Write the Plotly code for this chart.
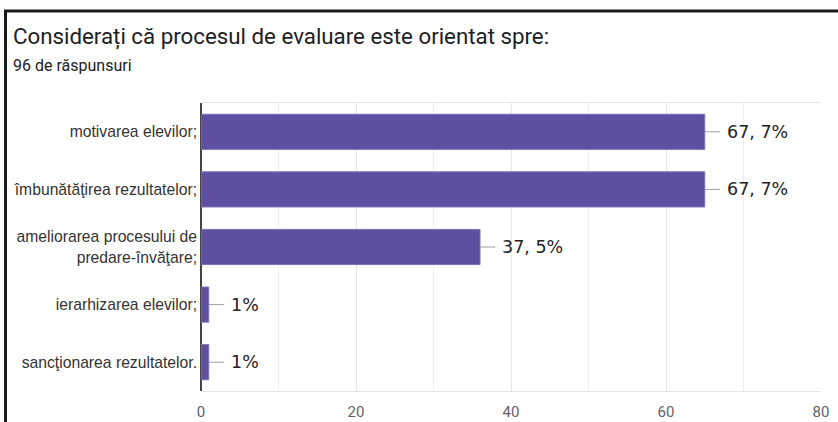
import plotly.graph_objects as go

TITLE = 'Considerați că procesul de evaluare este orientat spre:'
SUBTITLE = '96 de răspunsuri'

categories = [
    'motivarea elevilor;',
    'îmbunătăţirea rezultatelor;',
    'ameliorarea procesului de<br>predare-învăţare;',
    'ierarhizarea elevilor;',
    'sancţionarea rezultatelor.',
]
counts = [65, 65, 36, 1, 1]
pct_labels = ['67, 7%', '67, 7%', '37, 5%', '1%', '1%']
x_ticks = [0, 20, 40, 60, 80]

W, H = 838, 422
L, R, T, B = 201, 17, 103, 31
pw, ph = W - L - R, H - T - B


def px_x(v):
    return (v - L) / pw


def px_y(v):
    return (H - B - v) / ph


fig = go.Figure()

fig.add_trace(go.Bar(
    x=counts,
    y=categories,
    orientation='h',
    marker=dict(color='#5f4fa0', line=dict(color='#7d70b8', width=1)),
    width=0.61,
    hoverinfo='skip',
))

for c, cat, lab in zip(counts, categories, pct_labels):
    fig.add_annotation(
        x=c, y=cat, xref='x', yref='y',
        text=lab, showarrow=True, arrowhead=0, arrowwidth=1,
        arrowcolor='#9e9e9e', ax=15, ay=0, xanchor='left',
        standoff=0, startstandoff=0, borderpad=6,
        font=dict(family='DejaVu Sans', size=17.5, color='#222222'),
    )

fig.add_annotation(
    x=px_x(11), y=px_y(36), xref='paper', yref='paper',
    xanchor='left', yanchor='middle', showarrow=False,
    text=TITLE, font=dict(family='Roboto', size=22.3, color='#202124'),
)
fig.add_annotation(
    x=px_x(11), y=px_y(66), xref='paper', yref='paper',
    xanchor='left', yanchor='middle', showarrow=False,
    text=SUBTITLE, font=dict(family='Roboto', size=16, color='#202124'),
)

# screenshot frame: top and left edges only
frame = dict(color='#1a1a1a', width=3)
fig.add_shape(type='line', xref='paper', yref='paper',
              x0=px_x(4), x1=px_x(840), y0=px_y(11), y1=px_y(11),
              line=frame, layer='above')
fig.add_shape(type='line', xref='paper', yref='paper',
              x0=px_x(5.5), x1=px_x(5.5), y0=px_y(10), y1=px_y(430),
              line=frame, layer='above')

fig.update_layout(
    width=W, height=H,
    margin=dict(l=L, r=R, t=T, b=B),
    plot_bgcolor='white', paper_bgcolor='white',
    showlegend=False,
    font=dict(family='Liberation Sans', size=15.7, color='#333333'),
    xaxis=dict(
        range=[0, 80], tickvals=x_ticks, showgrid=True,
        gridcolor='#e6e6e6', gridwidth=1,
        minor=dict(dtick=10, tick0=0, showgrid=True, gridcolor='#eeeeee'),
        zeroline=True, zerolinecolor='#444444', zerolinewidth=1.5,
        showline=True, mirror=True, linecolor='#e6e6e6', linewidth=1,
        tickfont=dict(family='Roboto', size=15, color='#5f6368'),
        ticks='', ticklabelstandoff=7, automargin=False,
    ),
    yaxis=dict(
        categoryorder='array', categoryarray=categories[::-1],
        showgrid=False, ticks='', showline=False,
        tickfont=dict(family='Liberation Sans', size=15.7, color='#333333'),
        ticklabelstandoff=3, automargin=False,
    ),
)

fig.write_html('out.html', config={'displayModeBar': False},
               post_script="document.body.style.margin='0';")
